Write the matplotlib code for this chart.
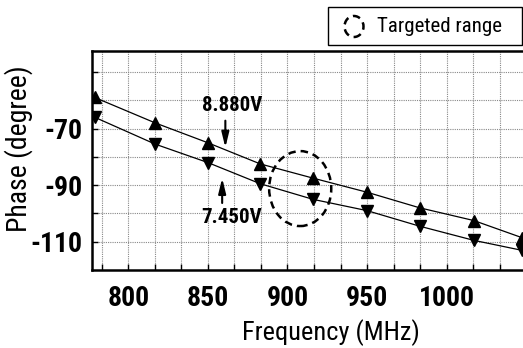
import numpy as np
import matplotlib
matplotlib.use('Agg')
import matplotlib.pyplot as plt
from matplotlib.patches import Ellipse, Rectangle

freq = [779, 817, 850, 883, 916, 950, 983, 1017, 1047]
phase_8880 = [-59, -68, -75, -82.5, -87.5, -92.5, -98, -102.5, -108.5]
phase_7450 = [-66, -75.5, -82, -89.5, -95, -99, -104.5, -109.5, -113]

x_ticks = [800, 850, 900, 950, 1000]
y_ticks = [-110, -90, -70]

plt.rcParams['font.family'] = ['Roboto Condensed', 'Archivo Narrow', 'DejaVu Sans']
plt.rcParams['axes.unicode_minus'] = False

W, H = 523, 348
fig = plt.figure(figsize=(W / 100, H / 100), dpi=100)
ax = fig.add_axes([0.176, 0.224, 0.87, 0.63])

ax.plot(freq, phase_8880, color='black', lw=0.9, marker='^', ms=8, zorder=3)
ax.plot(freq, phase_7450, color='black', lw=0.9, marker='v', ms=8, zorder=3)

# targeted range
ax.add_patch(Ellipse((908, -91.2), 39, 26.5, fill=False, ls=(0, (3, 2)), lw=1.8,
                     edgecolor='black', zorder=4))

arrow = dict(arrowstyle='-|>,head_width=0.22,head_length=0.9', color='black', lw=1.5,
             shrinkA=0, shrinkB=0)
ax.annotate('', xy=(861, -76.7), xytext=(861, -67.2), arrowprops=arrow)
ax.text(865, -61.9, '8.880V', ha='center', va='center', fontsize=15, fontweight='bold')
ax.annotate('', xy=(859, -87.5), xytext=(859, -96.3), arrowprops=arrow)
ax.text(865, -101.6, '7.450V', ha='center', va='center', fontsize=15, fontweight='bold')

ax.set_xlim(777.3, 1063)
ax.set_ylim(-120, -42.5)

ax.set_xticks(x_ticks)
ax.set_xticks(np.arange(800 - 50 / 3, 1060, 50 / 3), minor=True)
ax.set_yticks(y_ticks)
ax.set_yticks(np.arange(-110, -45, 10), minor=True)
ax.tick_params(which='both', direction='in', length=4, width=1, top=False, right=False)
ax.tick_params(axis='x', pad=11, labelsize=20)
ax.tick_params(axis='y', pad=7, labelsize=20)
for lab in ax.get_xticklabels() + ax.get_yticklabels():
    lab.set_fontweight('bold')

ax.grid(which='both', color='#888888', ls=(0, (1, 1)), lw=0.8)
ax.set_axisbelow(True)

for s in ['left', 'bottom', 'top']:
    ax.spines[s].set_linewidth(1.8)
ax.spines['right'].set_visible(False)

ax.set_xlabel('Frequency (MHz)', fontsize=19)
ax.xaxis.set_label_coords(0.524, -0.225)
ax.set_ylabel('Phase (degree)', fontsize=20)
ax.yaxis.set_label_coords(-0.13, 0.552)

# legend box
fig.add_artist(Rectangle((328 / W, 1 - 45 / H), 194 / W, 37.7 / H, transform=fig.transFigure,
                         facecolor='white', edgecolor='black', lw=1.0))
fig.add_artist(Ellipse((354 / W, 1 - 26.5 / H), 19 / W, 21 / H, transform=fig.transFigure,
                       fill=False, ls=(0, (3, 2)), lw=1.8, edgecolor='black'))
fig.text(377 / W, 1 - 26.5 / H, 'Targeted range', ha='left', va='center', fontsize=15)

fig.savefig('out.png', dpi=100)
